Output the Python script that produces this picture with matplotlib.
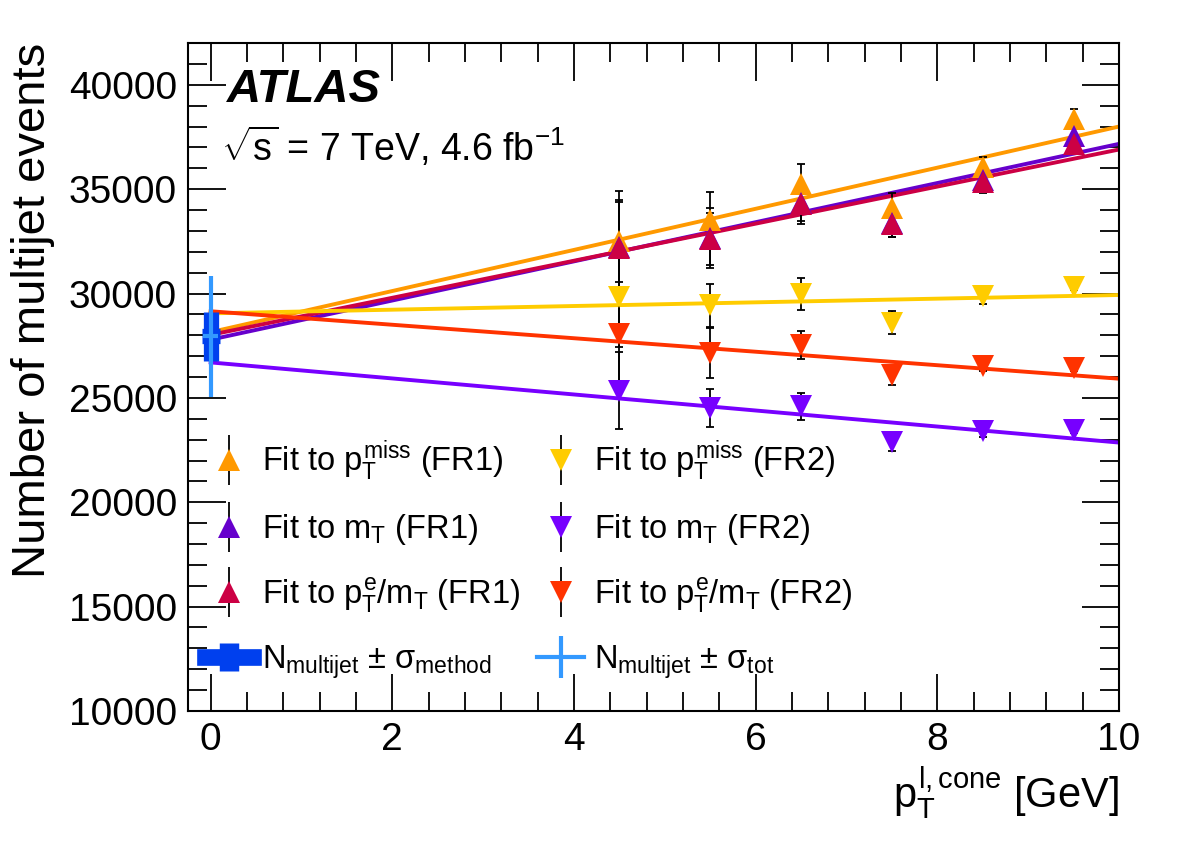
import numpy as np
import matplotlib
matplotlib.use("Agg")
import matplotlib.pyplot as plt
from matplotlib.lines import Line2D
from matplotlib.legend_handler import HandlerTuple
from matplotlib.ticker import MultipleLocator

plt.rcParams['font.family'] = ['Liberation Sans', 'DejaVu Sans']
plt.rcParams['mathtext.fontset'] = 'custom'
plt.rcParams['mathtext.rm'] = 'Liberation Sans'
plt.rcParams['mathtext.it'] = 'Liberation Sans'
plt.rcParams['mathtext.bf'] = 'Liberation Sans:bold'
plt.rcParams['mathtext.sf'] = 'Liberation Sans'

# cone pT bins [GeV]
cone_pt = [4.5, 5.5, 6.5, 7.5, 8.5, 9.5]

# fitted multijet yields per bin, fit region FR1 (up triangles)
met_fr1 = [32500, 33500, 35250, 34120, 36070, 38360]
met_fr1_err = [2400, 1350, 950, 720, 480, 480]
mt_fr1 = [32250, 32650, 34350, 33400, 35450, 37560]
mt_fr1_err = [2250, 1450, 1000, 680, 450, 480]
ptmt_fr1 = [32170, 32600, 34280, 33320, 35320, 37160]
ptmt_fr1_err = [2200, 1250, 800, 610, 480, 480]

# fit region FR2 (down triangles)
met_fr2 = [29830, 29430, 29990, 28600, 29880, 30310]
met_fr2_err = [2400, 1050, 770, 560, 400, 150]
mt_fr2 = [25350, 24520, 24600, 22890, 23400, 23480]
mt_fr2_err = [1850, 900, 650, 440, 250, 150]
ptmt_fr2 = [28040, 27160, 27530, 26090, 26520, 26440]
ptmt_fr2_err = [2500, 1200, 670, 480, 250, 150]

# linear fits: value at x=0 and at x=10
fit_x = [0, 10]
fit_met_fr1 = [28150, 38000]
fit_mt_fr1 = [27790, 37170]
fit_ptmt_fr1 = [28020, 36900]
fit_met_fr2 = [29050, 29930]
fit_mt_fr2 = [26700, 22860]
fit_ptmt_fr2 = [29150, 25920]

# extrapolated result at pT cone = 0
n_multijet = 27950
n_method_err = 1160
n_tot_err = 2900

c_met1, c_mt1, c_pm1 = '#ff9900', '#6600cc', '#cc0044'
c_met2, c_mt2, c_pm2 = '#ffcc00', '#7700ff', '#ff3300'
c_meth, c_tot = '#0040ee', '#3399ff'

fig = plt.figure(figsize=(11.82, 8.46), dpi=100)
ax = fig.add_axes([0.159, 0.1596, 0.7877, 0.7895])

series = [
    (met_fr1, met_fr1_err, fit_met_fr1, c_met1, '^'),
    (mt_fr1, mt_fr1_err, fit_mt_fr1, c_mt1, '^'),
    (ptmt_fr1, ptmt_fr1_err, fit_ptmt_fr1, c_pm1, '^'),
    (met_fr2, met_fr2_err, fit_met_fr2, c_met2, 'v'),
    (mt_fr2, mt_fr2_err, fit_mt_fr2, c_mt2, 'v'),
    (ptmt_fr2, ptmt_fr2_err, fit_ptmt_fr2, c_pm2, 'v'),
]

for vals, errs, fit, col, mk in series:
    ax.plot(fit_x, fit, color=col, lw=2.8, zorder=2)
for vals, errs, fit, col, mk in series:
    ax.errorbar(cone_pt, vals, yerr=errs, fmt='none', ecolor='black',
                elinewidth=1.3, capsize=3, capthick=1.3, zorder=3)
for vals, errs, fit, col, mk in series:
    ax.plot(cone_pt, vals, linestyle='none', marker=mk, ms=16, color=col,
            markeredgewidth=0, zorder=4)

ax.errorbar([0], [n_multijet], xerr=0.1, yerr=n_method_err, fmt='none',
            ecolor=c_meth, elinewidth=11, capsize=0, zorder=5)
ax.errorbar([0], [n_multijet], xerr=0.08, yerr=n_tot_err, fmt='none',
            ecolor=c_tot, elinewidth=3, capsize=0, zorder=6)

ax.set_xlim(-0.25, 10)
ax.set_ylim(10000, 42000)
ax.xaxis.set_major_locator(MultipleLocator(2))
ax.xaxis.set_minor_locator(MultipleLocator(0.4))
ax.yaxis.set_major_locator(MultipleLocator(5000))
ax.yaxis.set_minor_locator(MultipleLocator(1000))
ax.tick_params(which='both', direction='in', top=True, right=True,
               labelsize=28, width=1.3, pad=8)
ax.tick_params(which='major', length=27)
ax.tick_params(which='minor', length=14)
for s in ax.spines.values():
    s.set_linewidth(1.5)

ax.set_ylabel('Number of multijet events', fontsize=34, loc='top', labelpad=10)
ax.set_xlabel(r'$p_T^{l,cone}$ [GeV]', fontsize=30, loc='right', labelpad=6)

ax.text(0.042, 0.962, 'ATLAS', transform=ax.transAxes, fontsize=34,
        fontweight='bold', style='italic', va='top')
ax.text(0.036, 0.877, r'$\sqrt{s}$ = 7 TeV, 4.6 fb$^{-1}$', transform=ax.transAxes,
        fontsize=27, va='top')

def marker_handle(col, mk):
    bar = Line2D([], [], linestyle='none', marker='|', ms=36, mew=1.3, color='black')
    tri = Line2D([], [], linestyle='none', marker=mk, ms=16, mew=0, color=col)
    return (bar, tri)

h_meth = (Line2D([], [], color=c_meth, lw=12),
          Line2D([], [], linestyle='none', marker='|', ms=20, mew=14, color=c_meth))
h_tot = (Line2D([], [], color=c_tot, lw=3),
         Line2D([], [], linestyle='none', marker='|', ms=30, mew=3, color=c_tot))

handles = [marker_handle(c_met1, '^'), marker_handle(c_mt1, '^'),
           marker_handle(c_pm1, '^'), h_meth,
           marker_handle(c_met2, 'v'), marker_handle(c_mt2, 'v'),
           marker_handle(c_pm2, 'v'), h_tot]
labels = [r'Fit to $p_T^{miss}$ (FR1)', r'Fit to $m_T$ (FR1)',
          r'Fit to $p_T^{e}/m_T$ (FR1)',
          r'$N_{multijet}$ $\pm$ $\sigma_{method}$',
          r'Fit to $p_T^{miss}$ (FR2)', r'Fit to $m_T$ (FR2)',
          r'Fit to $p_T^{e}/m_T$ (FR2)',
          r'$N_{multijet}$ $\pm$ $\sigma_{tot}$']
ax.legend(handles, labels, ncol=2, loc='upper left', bbox_to_anchor=(-0.013, 0.452),
          frameon=False, fontsize=23.5, handlelength=1.45, handletextpad=0.3,
          columnspacing=0.5, labelspacing=0.88,
          handler_map={tuple: HandlerTuple(ndivide=1)})

fig.savefig('out.png', dpi=100)
